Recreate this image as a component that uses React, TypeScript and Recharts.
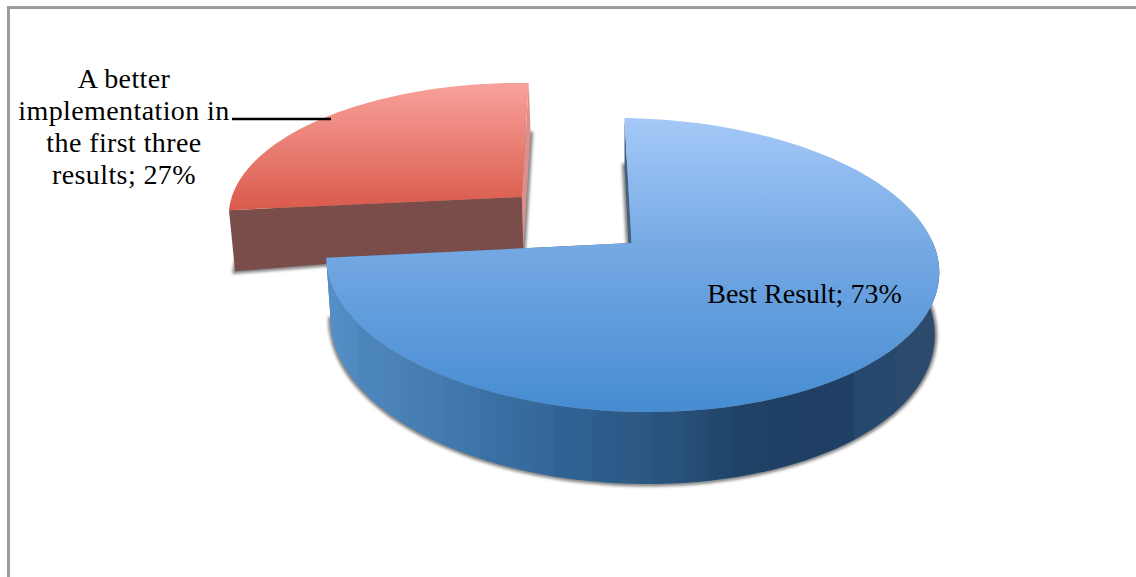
import { Pie, PieChart } from "recharts"

const categories = ["A better implementation in the first three results", "Best Result"]
const shares = [27, 73]
const labelRows = [["A better", "implementation in", "the first three", "results; 27%"], ["Best Result; 73%"]]

const chartData = categories.map((name, i) => ({ name, value: shares[i] }))

// first slice is painted first, so the larger slice overlaps it; the larger one still starts at 12 o'clock
const firstAngle = 90 + (360 * shares[0]) / 100

// tilted plane of the pie
const PERSPECTIVE = 0.15
const SQUASH = 0.474
const SHEAR = -8
const TILT = 3.5
const EXPLODE = 0.495

const looks = [
  {
    top: "url(#redTop)",
    rim: "#7a4d4a",
    wallStart: "#7a4d4a",
    wallEnd: "#dc8f8c",
    explode: EXPLODE,
    depth: { base: 47.5, u: -10, v: 0 },
    labelX: 124,
    labelY: 88,
    spacing: 0.4,
  },
  {
    top: "url(#blueTop)",
    rim: "url(#blueRim)",
    wallStart: "#44607f",
    wallEnd: "#44607f",
    explode: 0,
    depth: { base: 60, u: 0, v: -12 },
    labelX: 804.5,
    labelY: 303,
    spacing: 0,
  },
]

// facets along the outer wall of the large slice: offset, colour
const rimBands: [number, string][] = [
  [0, "#5490c8"],
  [5, "#5089c0"],
  [5, "#4d86bd"],
  [12, "#4a82b8"],
  [12, "#4880b6"],
  [19, "#447aaf"],
  [19, "#4079ae"],
  [25, "#3e74a8"],
  [25, "#3b72a6"],
  [31, "#376c9f"],
  [31, "#386c9e"],
  [37, "#33679a"],
  [37, "#2f6396"],
  [43, "#2f6090"],
  [43, "#2d5e8e"],
  [48, "#2c5a88"],
  [48, "#2f5c87"],
  [53, "#2b5782"],
  [53, "#28547f"],
  [58, "#27527c"],
  [58, "#274e76"],
  [62, "#254b72"],
  [62, "#23486e"],
  [66, "#21466c"],
  [66, "#204266"],
  [77, "#1f4064"],
  [86, "#1f4064"],
  [86, "#26486c"],
  [93, "#27496d"],
  [93, "#2c4a6c"],
  [100, "#2c4a6c"],
]

type Pt = { x: number; y: number }

function project(cx: number, cy: number, r: number, u: number, v: number): Pt {
  const w = 1 + PERSPECTIVE * v
  return {
    x: cx + (r * u + SHEAR * v) / w,
    y: cy + (-r * SQUASH * v + TILT * u) / w,
  }
}

function toPath(points: Pt[]) {
  return "M" + points.map((p) => `${p.x.toFixed(1)},${p.y.toFixed(1)}`).join("L") + "Z"
}

function Slice3D(props: any) {
  const { cx, cy, outerRadius, startAngle, endAngle, index } = props
  const look = looks[index]
  const midRad = (((startAngle + endAngle) / 2) * Math.PI) / 180
  const offU = Math.cos(midRad) * look.explode
  const offV = Math.sin(midRad) * look.explode

  const onTop = (u: number, v: number) => project(cx, cy, outerRadius, u + offU, v + offV)
  const below = (u: number, v: number) => {
    const p = onTop(u, v)
    const { base, u: du, v: dv } = look.depth
    return { x: p.x - 4.5 * (u + offU), y: p.y + base + du * (u + offU) + dv * (v + offV) }
  }

  const steps = 120
  const angles: number[] = []
  for (let i = 0; i <= steps; i++) {
    angles.push(((startAngle + ((endAngle - startAngle) * i) / steps) * Math.PI) / 180)
  }
  const arc = (at: (u: number, v: number) => Pt, list = angles) => list.map((a) => at(Math.cos(a), Math.sin(a)))

  const topArc = arc(onTop)
  const lowArc = arc(below)
  const topApex = onTop(0, 0)
  const lowApex = below(0, 0)
  const frontFacing = Math.sin(midRad) < 0
  // only the near part of the outer wall shows
  const nearAngles = angles.filter((a) => Math.sin(a) < 0.08)

  return (
    <g>
      {/* soft shadow under the slice */}
      <path
        d={toPath([lowApex, ...lowArc])}
        fill="#858585"
        stroke="#858585"
        strokeWidth={5}
        filter="url(#softShadow)"
      />
      <path d={toPath([topArc[0], topApex, lowApex, lowArc[0]])} fill={look.wallStart} />
      <path d={toPath([topArc[steps], topApex, lowApex, lowArc[steps]])} fill={look.wallEnd} />
      {frontFacing && (
        <path d={toPath([...arc(onTop, nearAngles), ...arc(below, nearAngles).reverse()])} fill={look.rim} />
      )}
      <path d={toPath([topApex, ...topArc])} fill={look.top} />
    </g>
  )
}

function SliceLabel(props: any) {
  const { index } = props
  const look = looks[index]
  const rows = labelRows[index]
  return (
    <g>
      {rows.map((row, i) => (
        <text
          key={row}
          x={look.labelX}
          y={look.labelY + i * 32}
          textAnchor="middle"
          fill="#000"
          fontFamily="'Liberation Serif', serif"
          fontSize={28}
          letterSpacing={look.spacing}
        >
          {row}
        </text>
      ))}
      {index === 0 && <line x1={232} x2={331} y1={119} y2={119} stroke="#000" strokeWidth={2.5} />}
    </g>
  )
}

export default function App() {
  return (
    <div style={{ position: "absolute", left: 0, top: 0, width: 1136, height: 577, background: "#fff", overflow: "hidden" }}>
      {/* chart frame, only top and left edges are in view */}
      <div
        style={{
          position: "absolute",
          left: 7,
          top: 6,
          width: 1129,
          height: 571,
          boxSizing: "border-box",
          borderTop: "3px solid #9b9b9b",
          borderLeft: "3px solid #9b9b9b",
        }}
      />
      <PieChart width={1136} height={577} margin={{ top: 0, right: 0, bottom: 0, left: 0 }} style={{ position: "absolute", left: 0, top: 0 }}>
        <defs>
          <linearGradient id="blueTop" gradientUnits="userSpaceOnUse" x1={0} x2={0} y1={118} y2={412}>
            <stop offset="0%" stopColor="#a5c9f8" />
            <stop offset="45%" stopColor="#74a8e3" />
            <stop offset="100%" stopColor="#468cd2" />
          </linearGradient>
          <linearGradient id="redTop" gradientUnits="userSpaceOnUse" x1={0} x2={0} y1={84} y2={212}>
            <stop offset="0%" stopColor="#f8a19b" />
            <stop offset="100%" stopColor="#d9594a" />
          </linearGradient>
          <linearGradient id="blueRim" gradientUnits="userSpaceOnUse" x1={327} x2={940} y1={0} y2={0}>
            {rimBands.map(([offset, color], i) => (
              <stop key={i} offset={`${offset}%`} stopColor={color} />
            ))}
          </linearGradient>
          <filter id="softShadow" x="-5%" y="-5%" width="110%" height="110%">
            <feGaussianBlur stdDeviation={1.6} />
          </filter>
        </defs>
        <Pie
          data={chartData}
          dataKey="value"
          nameKey="name"
          cx={631.5}
          cy={243}
          innerRadius={0}
          outerRadius={303}
          startAngle={firstAngle}
          endAngle={firstAngle - 360}
          stroke="none"
          isAnimationActive={false}
          shape={Slice3D}
          label={SliceLabel}
          labelLine={false}
        />
      </PieChart>
    </div>
  )
}
